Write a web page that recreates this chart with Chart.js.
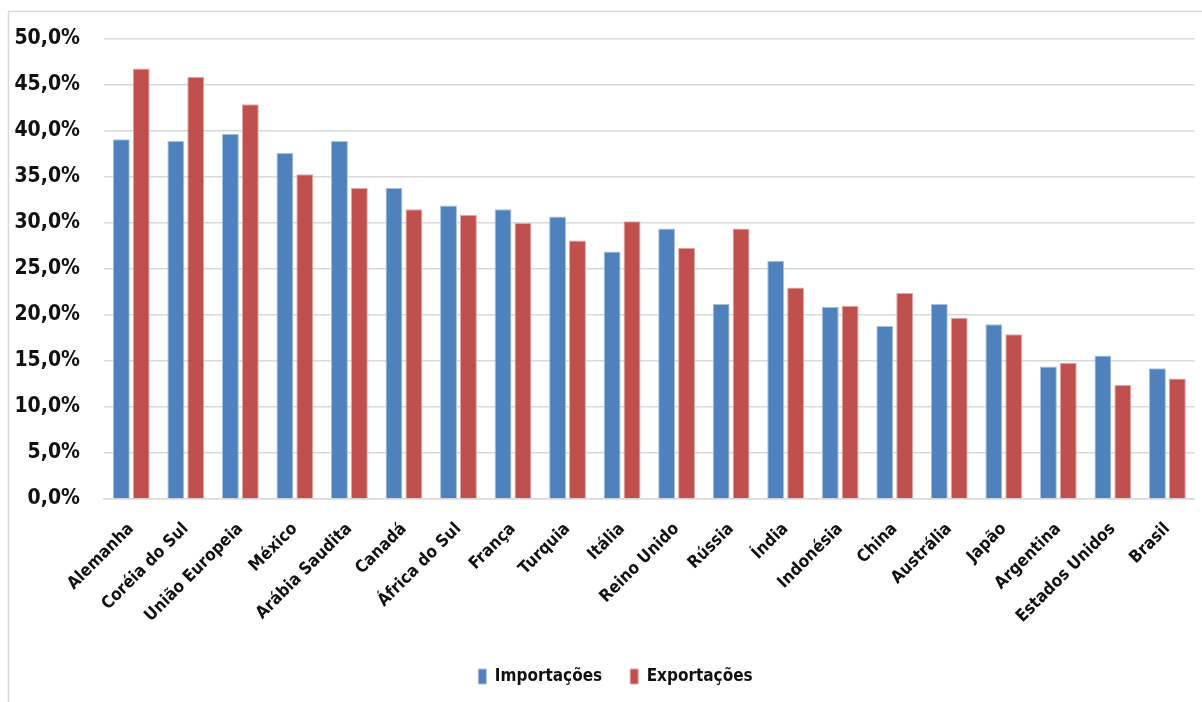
<!DOCTYPE html>
<html>
<head>
<meta charset="utf-8">
<script src="https://cdn.jsdelivr.net/npm/chart.js@4/dist/chart.umd.min.js"></script>
<style>
  html, body { margin: 0; padding: 0; background: #ffffff; }
  #wrap { width: 1202px; height: 702px; position: relative; }
</style>
</head>
<body>
<div id="wrap"><canvas id="chart"></canvas></div>
<script>
// Participação do comércio exterior (%), por país
const paises = ['Alemanha', 'Coréia do Sul', 'União Europeia', 'México', 'Arábia Saudita', 'Canadá',
  'África do Sul', 'França', 'Turquia', 'Itália', 'Reino Unido', 'Rússia', 'Índia', 'Indonésia',
  'China', 'Austrália', 'Japão', 'Argentina', 'Estados Unidos', 'Brasil'];
const importacoes = [39.1, 38.9, 39.7, 37.6, 38.9, 33.8, 31.9, 31.5, 30.7, 26.9, 29.4, 21.2, 25.9, 20.9,
  18.8, 21.2, 19.0, 14.4, 15.6, 14.2];
const exportacoes = [46.8, 45.9, 42.9, 35.3, 33.8, 31.5, 30.9, 30.0, 28.1, 30.2, 27.3, 29.4, 23.0, 21.0,
  22.4, 19.7, 17.9, 14.8, 12.4, 13.1];
const eixoY = { min: 0, max: 50, passo: 5 };

const fonte = "'DejaVu Sans Condensed', 'Open Sans', sans-serif";
const fmtPct = v => v.toFixed(1).replace('.', ',') + '%';

// moldura cinza clara em volta do gráfico
const moldura = {
  id: 'moldura',
  beforeDraw(chart) {
    const ctx = chart.ctx;
    ctx.save();
    ctx.fillStyle = '#ffffff';
    ctx.fillRect(0, 0, chart.width, chart.height);
    ctx.strokeStyle = '#d9d9d9';
    ctx.lineWidth = 1.5;
    ctx.beginPath();
    ctx.moveTo(8.5, chart.height);
    ctx.lineTo(8.5, 11.5);
    ctx.lineTo(chart.width, 11.5);
    ctx.stroke();
    ctx.restore();
  }
};

// legenda centrada um pouco à direita do centro da tela
const deslocaLegenda = {
  id: 'deslocaLegenda',
  afterUpdate(chart) {
    if (chart.legend) {
      chart.legend.left += 18;
      chart.legend.right += 18;
    }
  }
};

new Chart(document.getElementById('chart'), {
  type: 'bar',
  data: {
    labels: paises,
    datasets: [
      {
        label: 'Importações',
        data: importacoes,
        backgroundColor: '#4F81BD',
        borderColor: '#a9c1e0',
        borderWidth: 1,
        categoryPercentage: 0.73,
        barPercentage: 0.85
      },
      {
        label: 'Exportações',
        data: exportacoes,
        backgroundColor: '#C0504D',
        borderColor: '#e0a9a7',
        borderWidth: 1,
        categoryPercentage: 0.73,
        barPercentage: 0.85
      }
    ]
  },
  options: {
    responsive: true,
    maintainAspectRatio: false,
    animation: false,
    layout: { padding: { left: 0, right: 7, top: 39, bottom: 7 } },
    plugins: {
      tooltip: { enabled: false },
      legend: {
        position: 'bottom',
        labels: {
          boxWidth: 8,
          boxHeight: 15,
          padding: 28,
          color: '#111',
          font: { family: fonte, size: 17, weight: 'bold' }
        }
      }
    },
    scales: {
      x: {
        grid: { display: false, drawTicks: false },
        border: { color: '#d9d9d9', width: 1.5 },
        ticks: {
          minRotation: 45,
          maxRotation: 45,
          autoSkip: false,
          padding: 20,
          color: '#111',
          font: { family: fonte, size: 17, weight: 'bold' }
        },
        afterFit(s) { s.height = 141; }
      },
      y: {
        min: eixoY.min,
        max: eixoY.max,
        grid: { color: '#d9d9d9', lineWidth: 1.5, drawTicks: false },
        border: { display: false },
        ticks: {
          stepSize: eixoY.passo,
          padding: 24,
          color: '#111',
          font: { family: fonte, size: 21, weight: 'bold' },
          callback: v => fmtPct(v)
        },
        afterFit(s) { s.width = 104; }
      }
    }
  },
  plugins: [moldura, deslocaLegenda]
});
</script>
</body>
</html>
